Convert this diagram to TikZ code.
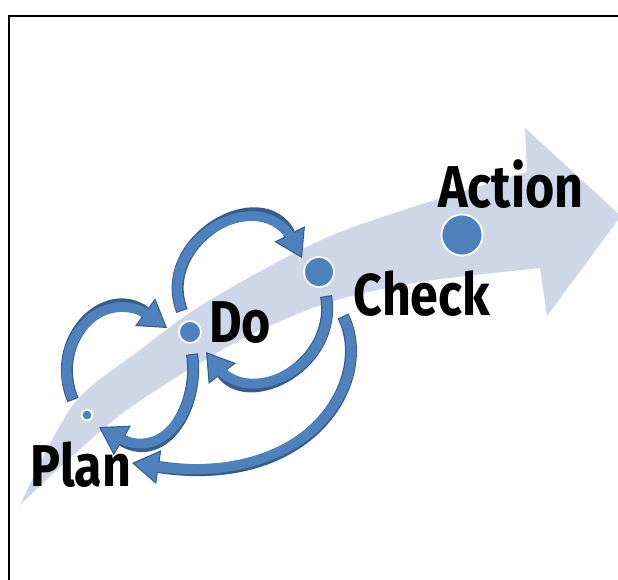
\documentclass[tikz,border=0pt]{standalone}
\usepackage{fontspec}
\newfontfamily\pdcafont{Fira Sans}[FakeStretch=0.85]
\usetikzlibrary{arrows.meta}
\definecolor{bandblue}{RGB}{206,215,232}
\definecolor{loopblue}{RGB}{79,129,189}
\definecolor{loopline}{RGB}{56,93,138}
\tikzset{
  pdcadot/.style={circle,fill=loopblue,draw=white,line width=1.8pt,inner sep=0pt},
  pdcalabel/.style={anchor=base,font=\pdcafont\bfseries\fontsize{59}{60}\selectfont},
  loopout/.style={draw=loopline,line width=12pt,-{Triangle[length=27pt,width=34pt,line width=1.1pt,fill=loopblue]}},
  loopin/.style={draw=loopblue,line width=9.8pt,shorten >=18pt,shorten <=1.1pt},
}
\begin{document}
\begin{tikzpicture}[x=1pt,y=-1pt]
\useasboundingbox (0,0) rectangle (618,579);
\draw[line width=2pt] (9,581) -- (9,16) -- (620,16);

% the wide arrow behind
\fill[bandblue] plot[smooth] coordinates {(20,505) (73,405) (140,350) (210,300) (340,232) (527,172)}
  -- (525,128) -- (621,216) -- (547,316) -- (540,268)
  -- plot[smooth] coordinates {(540,268) (420,282) (330,302) (250,335) (180,375) (120,415) (70,458) (20,505)} -- cycle;

% ends of the loops
\coordinate (a1) at (73,400);
\coordinate (a2) at (167,328);
\coordinate (b1) at (182,311);
\coordinate (b2) at (302,258);
\coordinate (c1) at (326,296);
\coordinate (c2) at (206,352);
\coordinate (d1) at (192,354);
\coordinate (d2) at (99,427);
\coordinate (e1) at (343,316);
\coordinate (e2) at (132,463);

\draw[loopout] (a1) .. controls (48,340) and (105,283) .. (a2);
\draw[loopin] (a1) .. controls (48,340) and (105,283) .. (a2);
\draw[loopout] (b1) .. controls (155,240) and (262,180) .. (b2);
\draw[loopin] (b1) .. controls (155,240) and (262,180) .. (b2);
\draw[loopout] (c1) .. controls (338,365) and (250,410) .. (c2);
\draw[loopin] (c1) .. controls (338,365) and (250,410) .. (c2);
\draw[loopout] (d1) .. controls (200,405) and (165,465) .. (d2);
\draw[loopin] (d1) .. controls (200,405) and (165,465) .. (d2);
\draw[loopout] (e1) .. controls (375,380) and (310,490) .. (e2);
\draw[loopin] (e1) .. controls (375,380) and (310,490) .. (e2);

% stages
\node[pdcadot,minimum size=11pt] (plan) at (87,415) {};
\node[pdcadot,minimum size=22pt] (do) at (190,332) {};
\node[pdcadot,minimum size=30pt] (check) at (319,272) {};
\node[pdcadot,minimum size=41pt] (action) at (462,235) {};

\node[pdcalabel] (plantext) at (81,486) {Plan};
\node[pdcalabel] (dotext) at (240,342) {Do};
\node[pdcalabel] (checktext) at (422,315) {Check};
\node[pdcalabel] (actiontext) at (511,207) {Action};
\end{tikzpicture}
\end{document}
